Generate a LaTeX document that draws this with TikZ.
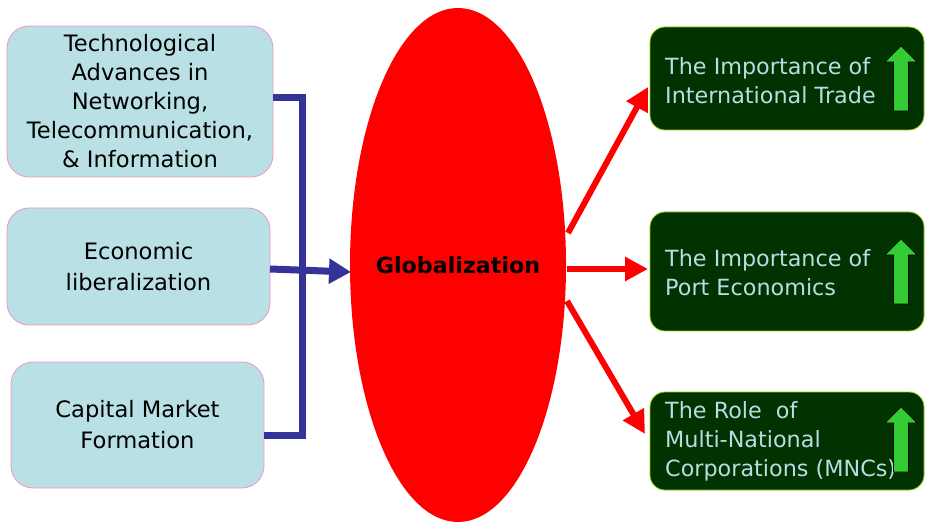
\documentclass[tikz,border=0pt]{standalone}
\usepackage{fontspec}
\setmainfont{DejaVu Sans}
\usetikzlibrary{arrows.meta,shapes.geometric}
\definecolor{lbfill}{RGB}{185,224,228}
\definecolor{lbdraw}{RGB}{240,150,200}
\definecolor{dkgreen}{RGB}{0,51,0}
\definecolor{rbdraw}{RGB}{153,204,0}
\definecolor{rtext}{RGB}{180,222,226}
\definecolor{brblue}{RGB}{51,51,153}
\definecolor{agreen}{RGB}{51,204,51}
\newcommand\greenup[3]{%
  \filldraw[fill=agreen,draw=black,line width=0.6pt]
    (#1-16,#2+16) -- (#1,#2) -- (#1+16,#2+16) -- (#1+7.5,#2+16)
    -- (#1+7.5,#3) -- (#1-7.5,#3) -- (#1-7.5,#2+16) -- cycle;}
\begin{document}
\begin{tikzpicture}[x=1pt,y=-1pt,
  leftbox/.style={draw=lbdraw,fill=lbfill,line width=0.8pt,rounded corners=22pt,
    align=center,inner sep=0pt,font=\fontsize{22.6}{29}\selectfont},
  rightbox/.style={draw=rbdraw,fill=dkgreen,line width=0.8pt,rounded corners=15pt,
    inner sep=0pt,minimum width=274pt},
  righttext/.style={anchor=west,align=left,inner sep=0pt,text=rtext,
    font=\fontsize{22.3}{29}\selectfont},
  bluecon/.style={draw=brblue,line width=7pt},
  redarrow/.style={draw=red,line width=6pt,-{Triangle[length=23pt,width=23pt]}}
]
\useasboundingbox (0,0) rectangle (931,526);

% left boxes
\node[leftbox,minimum width=266pt,minimum height=151pt] (b1) at (140,101.5)
  {Technological\\Advances in\\Networking,\\Telecommunication,\\\& Information};
\node[leftbox,minimum width=263pt,minimum height=117pt,
  font=\fontsize{22.6}{31}\selectfont] (b2) at (138.5,266.5)
  {Economic\\liberalization};
\node[leftbox,minimum width=253pt,minimum height=126pt,
  font=\fontsize{22.6}{31}\selectfont] (b3) at (137.5,425)
  {Capital Market\\Formation};

% ellipse
\node[ellipse,fill=red,minimum width=216pt,minimum height=514pt,inner sep=0pt] (g) at (458,265) {};
\node[inner sep=0pt,font=\fontsize{22.2}{25}\selectfont\bfseries] (gt) at (g.center) {Globalization};

% right boxes
\node[rightbox,minimum height=103pt] (r1) at (787,78.5) {};
\node[rightbox,minimum height=119pt] (r2) at (787,271.5) {};
\node[rightbox,minimum height=98pt] (r3) at (787,441) {};
\node[righttext] (t1) at (665,80.5) {The Importance of\\International Trade};
\node[righttext] (t2) at (665,273) {The Importance of\\Port Economics};
\node[righttext] (t3) at (665,441) {The Role\ \ of\\Multi-National\\Corporations (MNCs)};
\greenup{901}{46}{111}
\greenup{901}{239}{304}
\greenup{901}{407}{472}

% blue bracket
\coordinate (c1) at (273,98);
\coordinate (c3) at (264,435);
\draw[bluecon] (c1) -- (302,98) -- (302,435) -- (c3);
\coordinate (c2) at (270,269);
\draw[bluecon,-{Triangle[length=22pt,width=24pt]}] (c2) -- (351,272);

% red arrows
\coordinate (s1) at (568,233);
\coordinate (e1) at (648,87);
\coordinate (s2) at (567,269);
\coordinate (e2) at (648,269);
\coordinate (s3) at (567,301);
\coordinate (e3) at (645,434);
\draw[redarrow] (s1) -- (e1);
\draw[redarrow] (s2) -- (e2);
\draw[redarrow] (s3) -- (e3);
\end{tikzpicture}
\end{document}
